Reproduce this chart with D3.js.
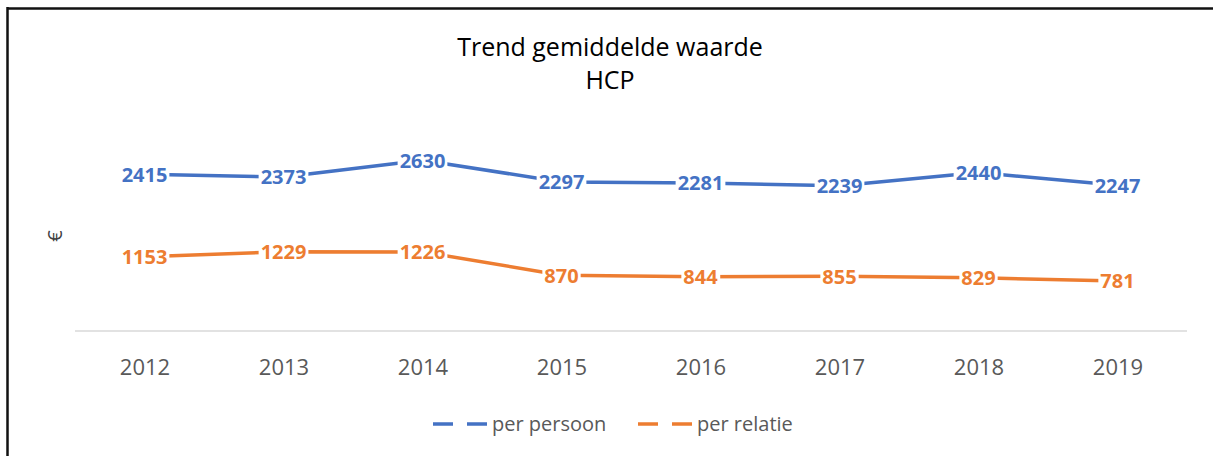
<!DOCTYPE html>
<html>
<head>
<meta charset="utf-8">
<script src="https://cdn.jsdelivr.net/npm/d3@7"></script>
<style>
html,body{margin:0;padding:0;background:#fff;}
svg{display:block;}
</style>
</head>
<body>
<svg id="chart" width="1213" height="456"></svg>
<script>
const years = ["2012","2013","2014","2015","2016","2017","2018","2019"];
const perPersoon = [2415, 2373, 2630, 2297, 2281, 2239, 2440, 2247];
const perRelatie = [1153, 1229, 1226, 870, 844, 855, 829, 781];
const seriesNames = ["per persoon", "per relatie"];
const seriesColors = ["#4472C4", "#ED7D31"];
const titleLines = ["Trend gemiddelde waarde", "HCP"];
const yLabel = "€";

const svg = d3.select("#chart");
const font = "'Open Sans', 'Noto Sans', sans-serif";

// frame (top and left edges visible)
svg.append("line").attr("x1",7).attr("x2",1213).attr("y1",8.5).attr("y2",8.5)
  .attr("stroke","#111").attr("stroke-width",2.5);
svg.append("line").attr("x1",7.5).attr("x2",7.5).attr("y1",7).attr("y2",456)
  .attr("stroke","#111").attr("stroke-width",2.5);

// title
svg.append("text").attr("x",610).attr("y",56).attr("text-anchor","middle")
  .attr("font-family",font).attr("font-size",25).attr("fill","#000").text(titleLines[0]);
svg.append("text").attr("x",610).attr("y",89).attr("text-anchor","middle")
  .attr("font-family",font).attr("font-size",25).attr("fill","#000").text(titleLines[1]);

const x = d3.scalePoint().domain(years).range([75,1187]).padding(0.5);
const y = d3.scaleLinear().domain([0,3000]).range([332,136]);

// x axis
const xAxis = svg.append("g").attr("transform","translate(0,331)")
  .call(d3.axisBottom(x).tickSize(0).tickPadding(28));
xAxis.select(".domain").attr("stroke","#D9D9D9").attr("stroke-width",1.5)
  .attr("d","M75,0H1187");
xAxis.selectAll("text").attr("font-family",font).attr("font-size",22).attr("fill","#595959");

// y label
svg.append("text").attr("transform","translate(62,236) rotate(-90)")
  .attr("text-anchor","middle").attr("font-family",font).attr("font-size",20)
  .attr("fill","#404040").text(yLabel);

const series = [perPersoon, perRelatie];
const line = d3.line().x((d,i)=>x(years[i])).y(d=>y(d));

series.forEach((vals,si)=>{
  svg.append("path").datum(vals).attr("d",line).attr("fill","none")
    .attr("stroke",seriesColors[si]).attr("stroke-width",3.5)
    .attr("stroke-linejoin","round");
});

series.forEach((vals,si)=>{
  const g = svg.append("g");
  vals.forEach((v,i)=>{
    const lg = g.append("g");
    const t = lg.append("text").attr("x",x(years[i])).attr("y",y(v)+7.5)
      .attr("text-anchor","middle").attr("font-family",font).attr("font-weight","bold")
      .attr("font-size",20).attr("fill",seriesColors[si]).text(v);
    const bb = t.node().getBBox();
    lg.insert("rect","text").attr("x",bb.x-2).attr("y",bb.y+3).attr("width",bb.width+4)
      .attr("height",bb.height-5).attr("fill","#fff");
  });
});

// legend
const legendItems = [{x:433, tx:492}, {x:638, tx:697}];
legendItems.forEach((it,si)=>{
  svg.append("line").attr("x1",it.x).attr("x2",it.x+54).attr("y1",424).attr("y2",424)
    .attr("stroke",seriesColors[si]).attr("stroke-width",3.5)
    .attr("stroke-dasharray","20,14");
  svg.append("text").attr("x",it.tx).attr("y",431).attr("font-family",font)
    .attr("font-size",20).attr("fill","#595959").text(seriesNames[si]);
});
</script>
</body>
</html>
